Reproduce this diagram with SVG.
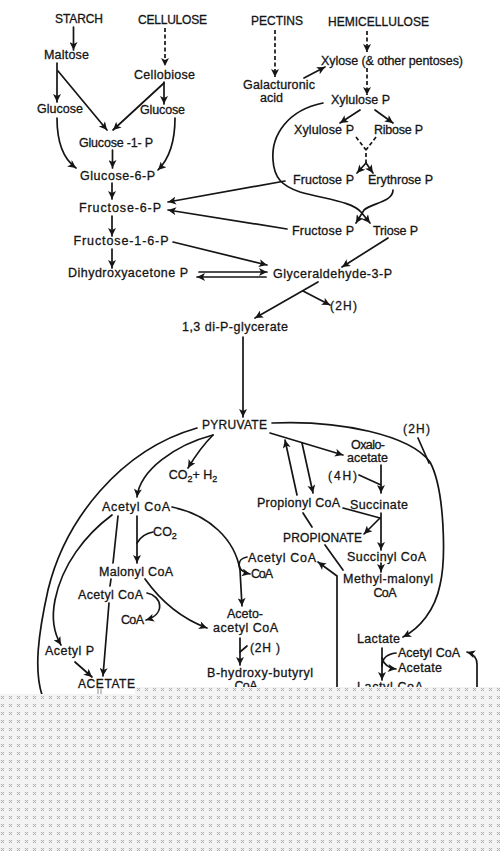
<svg xmlns="http://www.w3.org/2000/svg" width="500" height="851" viewBox="0 0 500 851">
<defs>
<style>
.t{font-family:"Liberation Sans",Arial,Helvetica,sans-serif;font-size:12.5px;fill:#151515;stroke:#151515;stroke-width:0.3;text-anchor:middle}
.c{font-size:12px}
.l{fill:none;stroke:#151515;stroke-width:1.7;stroke-linecap:round}
.a{marker-end:url(#ah)}
.d{stroke-dasharray:4 2.5;stroke-linecap:butt}
</style>
<marker id="ah" viewBox="0 0 10 10" refX="10" refY="5" markerWidth="9" markerHeight="8" orient="auto" markerUnits="userSpaceOnUse">
<path d="M0,0 L10,5 L0,10 L2.5,5 z" fill="#151515"/>
</marker>
<pattern id="dots" width="8" height="8" patternUnits="userSpaceOnUse">
<rect width="8" height="8" fill="#f3f3f3"/>
<path d="M1,0h1v1h-1z M3,0h1v1h-1z M2,1h1v1h-1z M1,2h1v1h-1z M3,2h1v1h-1z" fill="#a8a8a8"/>
</pattern>
</defs>
<rect width="500" height="851" fill="#ffffff"/>

<g id="connectors">
<path class="l a" d="M73.5,27 L73.5,50"/>
<path class="l a d" d="M165,28 L165,66"/>
<path class="l a" d="M57,63 L57,102"/>
<path class="l a" d="M58,71 L107,130"/>
<path class="l a" d="M164,82 L164,104"/>
<path class="l a" d="M164,83 L113,130"/>
<path class="l a" d="M112.5,150 L112.5,168"/>
<path class="l a" d="M57,118 C57,140 62,158 76,168"/>
<path class="l a" d="M175,118 C175,142 170,158 158,170"/>
<path class="l a" d="M112,183 L112,199"/>
<path class="l a" d="M112,216 L112,236"/>
<path class="l a" d="M112,249 L112,268"/>
<path class="l a" d="M285,181 L168,202"/>
<path class="l a" d="M287,229 L168,210"/>
<path class="l a" d="M173,242 L267,265"/>
<path class="l a" d="M199,272 L267,272"/>
<path class="l a" d="M266,277 L197,277"/>
<path class="l a d" d="M275,30 L275,77"/>
<path class="l a" d="M304,78 L325,67"/>
<path class="l a d" d="M367,31 L367,52"/>
<path class="l a d" d="M367,68 L367,95"/>
<path class="l a" d="M360,110 L340,123"/>
<path class="l a" d="M375,110 L393,123"/>
<path class="l d" d="M356,137 L366,150 M376,137 L366,150 L366,163"/>
<path class="l a" d="M366,163 L357,173"/>
<path class="l a" d="M366,163 L373,173"/>
<path class="l a" d="M323,103 C288,110 271,135 273,160 C274,178 282,186 300,192 C330,200 352,202 361,212 L370,223"/>
<path class="l a" d="M393,190 C393,202 372,203 364,210 L356,223"/>
<path class="l a" d="M388,238 L342,267"/>
<path class="l a" d="M318,282 L255,318"/>
<path class="l a" d="M303,291 L330,305"/>
<path class="l a" d="M243,337 L243,417"/>
<path class="l a" d="M213,435 Q200,448 188,468"/>
<path class="l a" d="M213,435 C175,445 140,470 137,497"/>
<path class="l" d="M197,428 C120,450 65,520 48,590 C38,635 34,670 42,695"/>
<path class="l a" d="M112,515 C85,535 62,565 55,600 C51,620 55,635 61,645"/>
<path class="l" d="M118,516 L113,563 M111,579 L110,586"/>
<path class="l a" d="M109,603 L103,676"/>
<path class="l a" d="M137,516 L137,563"/>
<path class="l" d="M137,543 Q142,534 153,532"/>
<path class="l a" d="M145,579 C160,600 180,618 207,628"/>
<path class="l a" d="M147,593 C162,596 166,614 146,620"/>
<path class="l a" d="M172,507 C210,515 235,540 240,570 L242,606"/>
<path class="l a" d="M247,557 C236,559 236,571 250,574"/>
<path class="l a" d="M240,638 L240,665"/>
<path class="l" d="M240,652 L247,646"/>
<path class="l a" d="M270,433 L343,455"/>
<path class="l a" d="M302,443 L313,493"/>
<path class="l a" d="M297,495 L285,440"/>
<path class="l a" d="M381,465 L381,493"/>
<path class="l" d="M359,475 L381,485"/>
<path class="l a" d="M381,513 L381,550"/>
<path class="l" d="M343,508 L380,518"/>
<path class="l a" d="M380,518 L364,534"/>
<path class="l" d="M303,513 L312,527"/>
<path class="l" d="M325,545 L343,570"/>
<path class="l a" d="M381,563 L381,572"/>
<path class="l a" d="M337,692 L337,576 L318,562"/>
<path class="l a" d="M272,423 C340,420 410,435 430,462 C445,490 446,560 440,585 C435,610 420,628 403,637"/>
<path class="l" d="M418,438 L429,463"/>
<path class="l a" d="M382,648 L382,680"/>
<path class="l" d="M382,666 C382,658 388,654 396,653"/>
<path class="l a" d="M382,658 C384,665 388,668 396,669"/>
<path class="l a" d="M477,692 L477,664 Q477,655 467,652"/>
<path class="l a" d="M75,662 L92,677"/>
<path d="M98,689 L98,695 M101,689 L101,695" stroke="#8a8a8a" stroke-width="1" fill="none"/>
</g>

<g id="n-starch"><text class="t c" x="79" y="23" textLength="48">STARCH</text></g>
<g id="n-cellulose"><text class="t c" x="172.5" y="24" textLength="69">CELLULOSE</text></g>
<g id="n-pectins"><text class="t c" x="277" y="25" textLength="52">PECTINS</text></g>
<g id="n-hemicellulose"><text class="t c" x="378.5" y="26" textLength="101">HEMICELLULOSE</text></g>
<g id="n-maltose"><text class="t" x="66.5" y="59" textLength="45">Maltose</text></g>
<g id="n-cellobiose"><text class="t" x="164.5" y="79" textLength="61">Cellobiose</text></g>
<g id="n-glucose-l"><text class="t" x="60" y="113" textLength="46">Glucose</text></g>
<g id="n-glucose-r"><text class="t" x="162.5" y="114" textLength="45">Glucose</text></g>
<g id="n-g1p"><text class="t" x="116" y="147" textLength="74">Glucose -1- P</text></g>
<g id="n-g6p"><text class="t" x="117.5" y="180" textLength="75">Glucose-6-P</text></g>
<g id="n-f6p"><text class="t" x="120" y="212" textLength="82">Fructose-6-P</text></g>
<g id="n-f16p"><text class="t" x="121" y="245" textLength="95">Fructose-1-6-P</text></g>
<g id="n-dhap"><text class="t" x="128" y="277" textLength="120">Dihydroxyacetone  P</text></g>
<g id="n-xylose"><text class="t" x="392" y="65" textLength="142">Xylose (&amp; other pentoses)</text></g>
<g id="n-galacturonic"><text class="t" x="279" y="89" textLength="72">Galacturonic</text><text class="t" x="271.5" y="102" textLength="23">acid</text></g>
<g id="n-xylulosep"><text class="t" x="360.5" y="104" textLength="59">Xylulose P</text></g>
<g id="n-xylulosep2"><text class="t" x="324" y="134" textLength="60">Xylulose P</text></g>
<g id="n-ribosep"><text class="t" x="398.5" y="134" textLength="49">Ribose P</text></g>
<g id="n-fructosep1"><text class="t" x="323.5" y="184" textLength="61">Fructose P</text></g>
<g id="n-erythrosep"><text class="t" x="400.5" y="184" textLength="65">Erythrose P</text></g>
<g id="n-fructosep2"><text class="t" x="323" y="235" textLength="62">Fructose P</text></g>
<g id="n-triosep"><text class="t" x="395.5" y="235" textLength="45">Triose P</text></g>
<g id="n-g3p"><text class="t" x="332.5" y="278" textLength="119">Glyceraldehyde-3-P</text></g>
<g id="n-2h-a"><text class="t c" x="343.5" y="310" textLength="27">(2H)</text></g>
<g id="n-dpg"><text class="t" x="235" y="331" textLength="106">1,3 di-P-glycerate</text></g>
<g id="n-pyruvate"><text class="t c" x="234.5" y="429" textLength="65">PYRUVATE</text></g>
<g id="n-2h-b"><text class="t c" x="416.5" y="433" textLength="27">(2H)</text></g>
<g id="n-oxalo"><text class="t" x="368" y="449" textLength="34">Oxalo-</text><text class="t" x="367.5" y="462" textLength="41">acetate</text></g>
<g id="n-4h"><text class="t c" x="342.5" y="480" textLength="29">(4H)</text></g>
<g id="n-co2h2"><text class="t" x="193" y="479">CO<tspan font-size="9" dy="3">2</tspan><tspan dy="-3">+ H</tspan><tspan font-size="9" dy="3">2</tspan></text></g>
<g id="n-acetylcoa1"><text class="t" x="136" y="511" textLength="68">Acetyl  CoA</text></g>
<g id="n-co2"><text class="t" x="165" y="536">CO<tspan font-size="9" dy="3">2</tspan></text></g>
<g id="n-propionylcoa"><text class="t" x="298.5" y="507" textLength="83">Propionyl  CoA</text></g>
<g id="n-succinate"><text class="t" x="379" y="509" textLength="58">Succinate</text></g>
<g id="n-propionate"><text class="t c" x="322.5" y="542" textLength="79">PROPIONATE</text></g>
<g id="n-succinylcoa"><text class="t" x="386.5" y="561" textLength="79">Succinyl  CoA</text></g>
<g id="n-acetylcoa3"><text class="t" x="282" y="562" textLength="68">Acetyl  CoA</text></g>
<g id="n-coa4"><text class="t" x="262" y="578" textLength="22">CoA</text></g>
<g id="n-methylmalonyl"><text class="t" x="388" y="583" textLength="90">Methyl-malonyl</text><text class="t" x="385" y="597" textLength="23">CoA</text></g>
<g id="n-malonylcoa"><text class="t" x="136" y="576" textLength="74">Malonyl  CoA</text></g>
<g id="n-acetylcoa2"><text class="t" x="110.5" y="599" textLength="65">Acetyl  CoA</text></g>
<g id="n-coa2"><text class="t" x="132.5" y="624" textLength="23">CoA</text></g>
<g id="n-acetoacetyl"><text class="t" x="245" y="618" textLength="36">Aceto-</text><text class="t" x="245.5" y="632" textLength="65">acetyl  CoA</text></g>
<g id="n-2h-c"><text class="t c" x="265" y="652" textLength="30">(2H )</text></g>
<g id="n-bhb"><text class="t" x="260" y="677" textLength="106">B-hydroxy-butyryl</text><text class="t" x="246" y="690" textLength="23">CoA</text></g>
<g id="n-lactate"><text class="t" x="378.5" y="643" textLength="43">Lactate</text></g>
<g id="n-acetylcoa-l"><text class="t" x="429" y="657" textLength="62">Acetyl CoA</text></g>
<g id="n-acetate-l"><text class="t" x="420" y="672" textLength="44">Acetate</text></g>
<g id="n-lactylcoa"><text class="t" x="390" y="691" textLength="66">Lactyl  CoA</text></g>
<g id="n-acetylp"><text class="t" x="69.5" y="655" textLength="49">Acetyl P</text></g>
<g id="n-acetate"><text class="t c" x="106.5" y="688" textLength="57">ACETATE</text></g>

<path d="M0,694 L135,694 L135,687 L500,687 L500,851 L0,851 Z" fill="url(#dots)"/>
</svg>
